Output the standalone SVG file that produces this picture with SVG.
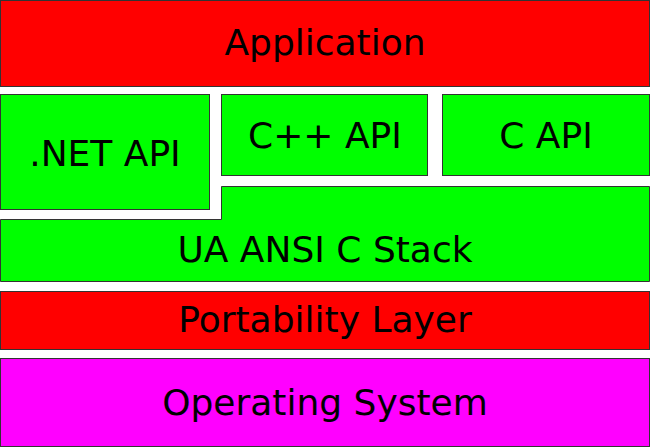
<svg xmlns="http://www.w3.org/2000/svg" width="650" height="447" viewBox="0 0 650 447">
<style>
.b{stroke:#333;stroke-width:1}
.r{fill:#ff0000}.g{fill:#00ff00}.m{fill:#ff00ff}
text{font-family:"DejaVu Sans",sans-serif;font-size:36px;text-anchor:middle;fill:#000}
</style>
<rect width="650" height="447" fill="#fff"/>
<g id="app"><rect class="b r" x="0.5" y="0.5" width="649" height="86"/><text x="325" y="55">Application</text></g>
<g id="net"><rect class="b g" x="0.5" y="94.5" width="209" height="115"/><text x="105" y="166">.NET API</text></g>
<g id="cpp"><rect class="b g" x="221.5" y="94.5" width="206" height="81"/><text x="325" y="148">C++ API</text></g>
<g id="capi"><rect class="b g" x="442.5" y="94.5" width="207" height="81"/><text x="546" y="148">C API</text></g>
<g id="stack"><path class="b g" d="M221.5,186.5H649.5V281.5H0.5V219.5H221.5Z"/><text x="325" y="262">UA ANSI C Stack</text></g>
<g id="port"><rect class="b r" x="0.5" y="291.5" width="649" height="58"/><text x="325" y="332">Portability Layer</text></g>
<g id="os"><rect class="b m" x="0.5" y="358.5" width="649" height="88"/><text x="325" y="415">Operating System</text></g>
<g id="connectors"/>
</svg>
